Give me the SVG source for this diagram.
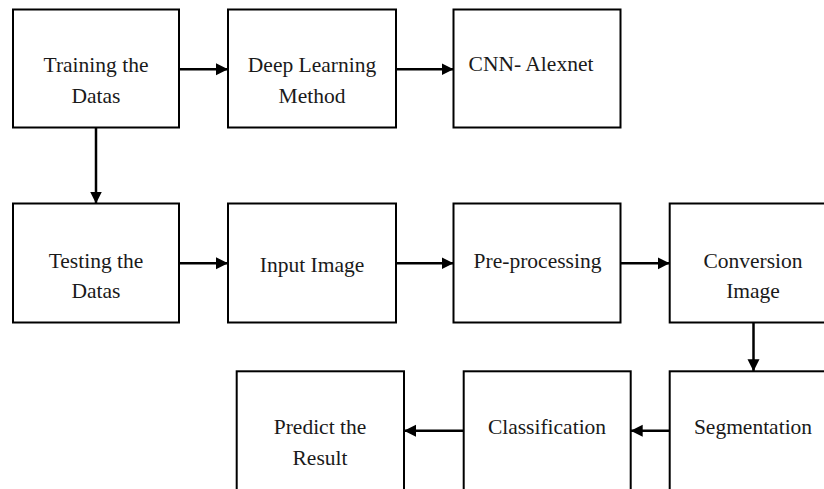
<svg xmlns="http://www.w3.org/2000/svg" width="824" height="489" viewBox="0 0 824 489">
<style>
.box{fill:#fff;stroke:#000;stroke-width:2}
.lbl{font-family:"Liberation Serif","Times New Roman",serif;font-size:21.5px;fill:#1a1a1a;text-anchor:middle}
.con{stroke:#000;stroke-width:2.5;fill:none;marker-end:url(#ah)}
</style>
<defs>
<marker id="ah" markerUnits="userSpaceOnUse" markerWidth="13" markerHeight="13" refX="12" refY="6" orient="auto">
<path d="M0,0 L12,6 L0,12 z" fill="#000"/>
</marker>
</defs>
<rect width="824" height="489" fill="#fff"/>
<g id="training">
<rect class="box" x="13" y="9.5" width="166" height="118"/>
<text class="lbl" x="96" y="72">Training the</text>
<text class="lbl" x="96" y="103">Datas</text>
</g>
<g id="deep">
<rect class="box" x="228" y="9.5" width="168" height="118"/>
<text class="lbl" x="312" y="72">Deep Learning</text>
<text class="lbl" x="312" y="103">Method</text>
</g>
<g id="cnn">
<rect class="box" x="453.5" y="9.5" width="167" height="118"/>
<text class="lbl" x="531" y="71">CNN- Alexnet</text>
</g>
<g id="testing">
<rect class="box" x="13" y="203.5" width="166" height="119"/>
<text class="lbl" x="96" y="267.5">Testing the</text>
<text class="lbl" x="96" y="297.5">Datas</text>
</g>
<g id="input">
<rect class="box" x="228" y="203.5" width="168" height="119"/>
<text class="lbl" x="312" y="272">Input Image</text>
</g>
<g id="preprocessing">
<rect class="box" x="453.5" y="203.5" width="167" height="119"/>
<text class="lbl" x="537.5" y="267.5">Pre-processing</text>
</g>
<g id="conversion">
<rect class="box" x="669.7" y="203.5" width="167" height="119"/>
<text class="lbl" x="753" y="267.5">Conversion</text>
<text class="lbl" x="753" y="297.5">Image</text>
</g>
<g id="predict">
<rect class="box" x="236.7" y="371.3" width="167.3" height="121"/>
<text class="lbl" x="320" y="434">Predict the</text>
<text class="lbl" x="320" y="464.5">Result</text>
</g>
<g id="classification">
<rect class="box" x="463.7" y="371.3" width="167" height="121"/>
<text class="lbl" x="547" y="434">Classification</text>
</g>
<g id="segmentation">
<rect class="box" x="669.7" y="371.3" width="167" height="121"/>
<text class="lbl" x="753" y="434">Segmentation</text>
</g>
<g id="connectors">
<line class="con" x1="179" y1="69.3" x2="228" y2="69.3"/>
<line class="con" x1="396" y1="69.3" x2="453.5" y2="69.3"/>
<line class="con" x1="96" y1="127.5" x2="96" y2="203.5"/>
<line class="con" x1="179" y1="263.3" x2="228" y2="263.3"/>
<line class="con" x1="396" y1="263.3" x2="453.5" y2="263.3"/>
<line class="con" x1="620.5" y1="263.3" x2="669.7" y2="263.3"/>
<line class="con" x1="753.5" y1="322.5" x2="753.5" y2="371.3"/>
<line class="con" x1="669.7" y1="430.7" x2="630.7" y2="430.7"/>
<line class="con" x1="463.7" y1="430.7" x2="404" y2="430.7"/>
</g>
</svg>
